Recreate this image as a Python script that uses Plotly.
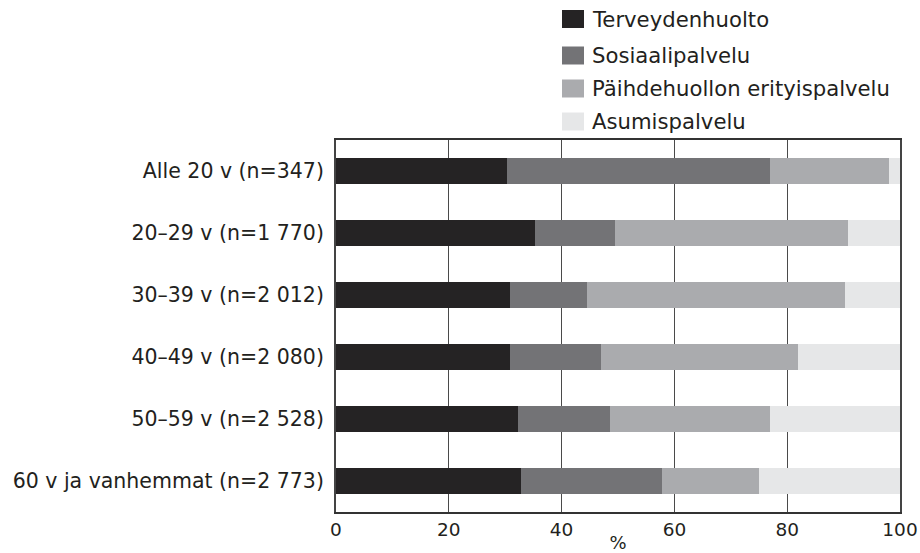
import plotly.graph_objects as go

categories = ["Alle 20 v (n=347)", "20–29 v (n=1 770)", "30–39 v (n=2 012)",
              "40–49 v (n=2 080)", "50–59 v (n=2 528)", "60 v ja vanhemmat (n=2 773)"]
series_names = ["Terveydenhuolto", "Sosiaalipalvelu", "Päihdehuollon erityispalvelu", "Asumispalvelu"]
terveydenhuolto = [30.4, 35.3, 30.9, 30.9, 32.3, 32.8]
sosiaalipalvelu = [46.6, 14.1, 13.6, 16.1, 16.3, 25.0]
paihdehuolto = [21.0, 41.4, 45.7, 34.9, 28.4, 17.2]
asumispalvelu = [2.0, 9.2, 9.8, 18.1, 23.0, 25.0]
colors = ["#252324", "#737376", "#aaabae", "#e6e7e8"]
x_ticks = [0, 20, 40, 60, 80, 100]

FONT = "DejaVu Sans"
fig = go.Figure()
for name, vals, col in zip(series_names,
                           [terveydenhuolto, sosiaalipalvelu, paihdehuolto, asumispalvelu],
                           colors):
    fig.add_trace(go.Bar(y=categories, x=vals, name=name, orientation="h",
                         marker=dict(color=col, line=dict(width=0)),
                         width=0.43, showlegend=False, hoverinfo="skip"))

# custom legend
leg_y = [19, 55.5, 88.5, 121.5]
for i, (name, col) in enumerate(zip(series_names, colors)):
    yc = leg_y[i]
    fig.add_shape(type="rect", xref="paper", yref="paper",
                  x0=(562 - 336) / 564, x1=(584 - 336) / 564,
                  y0=(553 - 41 - (yc + 9)) / 372, y1=(553 - 41 - (yc - 9)) / 372,
                  fillcolor=col, line=dict(width=0))
    fig.add_annotation(xref="paper", yref="paper", x=(590 - 336) / 564,
                       y=(553 - 41 - yc) / 372, text=name, showarrow=False,
                       xanchor="left", yanchor="middle",
                       font=dict(family=FONT, size=21.2, color="#231f20"))

fig.update_layout(
    barmode="stack",
    width=920, height=553,
    margin=dict(l=336, r=20, t=140, b=41, autoexpand=False),
    paper_bgcolor="white", plot_bgcolor="white",
    font=dict(family=FONT, size=20, color="#231f20"),
)
fig.update_xaxes(range=[0, 100], tickvals=x_ticks, ticktext=[str(v) for v in x_ticks],
                 tickfont=dict(size=18.5),
                 showgrid=True, gridcolor="#4a4a4a", gridwidth=1.3,
                 showline=True, linecolor="#333333", linewidth=2, mirror=True,
                 zeroline=False, ticks="", ticklabelstandoff=0, automargin=False,
                 title=dict(text="%", standoff=0, font=dict(size=18)))
fig.update_yaxes(categoryorder="array", categoryarray=categories[::-1],
                 tickfont=dict(size=20.5),
                 showline=True, linecolor="#444444", linewidth=2, mirror=True,
                 showgrid=False, ticks="", ticklabelstandoff=6, automargin=False)

fig.write_html("out.html", config={"displayModeBar": False})
with open("out.html", encoding="utf-8") as f:
    html = f.read()
html = html.replace("<body>", '<body style="margin:0;padding:0;overflow:hidden">', 1)
with open("out.html", "w", encoding="utf-8") as f:
    f.write(html)
